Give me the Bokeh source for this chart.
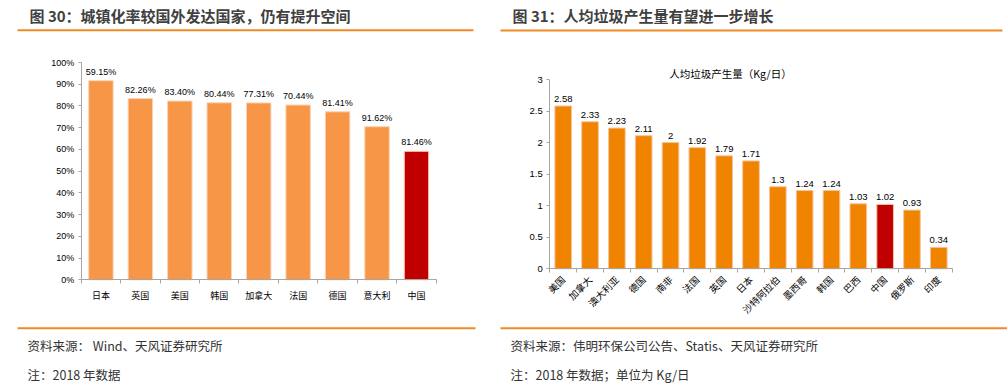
import math
from bokeh.plotting import figure
from bokeh.layouts import row
from bokeh.models import (Range1d, FixedTicker, Label, BoxAnnotation, ColumnDataSource,
                          CustomJSTickFormatter)
from bokeh.core.properties import value
from bokeh.embed import file_html
from bokeh.resources import INLINE

# ---------------- data ----------------
urb_countries = ["日本", "英国", "美国", "韩国", "加拿大", "法国", "德国", "意大利", "中国"]
urb_rates = [91.62, 83.40, 82.26, 81.46, 81.41, 80.44, 77.31, 70.44, 59.15]
urb_labels = ["59.15%", "82.26%", "83.40%", "80.44%", "77.31%", "70.44%", "81.41%", "91.62%", "81.46%"]
urb_yticks = [0, 10, 20, 30, 40, 50, 60, 70, 80, 90, 100]

waste_countries = ["美国", "加拿大", "澳大利亚", "德国", "南非", "法国", "英国", "日本",
                   "沙特阿拉伯", "墨西哥", "韩国", "巴西", "中国", "俄罗斯", "印度"]
waste_values = [2.58, 2.33, 2.23, 2.11, 2.00, 1.92, 1.79, 1.71, 1.30, 1.24, 1.24, 1.03, 1.02, 0.93, 0.34]
waste_labels = ["2.58", "2.33", "2.23", "2.11", "2", "1.92", "1.79", "1.71", "1.3", "1.24",
                "1.24", "1.03", "1.02", "0.93", "0.34"]
waste_yticks = [0, 0.5, 1, 1.5, 2, 2.5, 3]

title_left = "图 30：城镇化率较国外发达国家，仍有提升空间"
title_right = "图 31：人均垃圾产生量有望进一步增长"
inner_title_right = "人均垃圾产生量（Kg/日）"
src_left = "资料来源： Wind、天风证券研究所"
note_left = "注：2018 年数据"
src_right = "资料来源：伟明环保公司公告、Statis、天风证券研究所"
note_right = "注：2018 年数据；单位为 Kg/日"

# ---------------- styles / geometry ----------------
CJK = "Noto Sans CJK SC"
LAT = "Liberation Sans"
ORANGE_LINE = "#F08A24"
AXIS_GRAY = "#A6A6A6"
LEFT_BAR = "#F79646"
RIGHT_BAR = "#F08300"
RED = "#C00000"
FIG_H = 385


def scr_label(p, x, y, text, size, bold=False, color="#333333", align="left"):
    p.add_layout(Label(x=x, y=FIG_H - y, x_units="screen", y_units="screen", text=text,
                       text_align=align, text_baseline="middle", text_font=CJK,
                       text_font_size=size, text_font_style="bold" if bold else "normal",
                       text_color=color))


def scr_line(p, x0, x1, yc):
    p.add_layout(BoxAnnotation(left=x0, right=x1, bottom=FIG_H - yc - 1, top=FIG_H - yc + 1,
                               left_units="screen", right_units="screen",
                               bottom_units="screen", top_units="screen",
                               fill_color=ORANGE_LINE, fill_alpha=1, line_color=None))


def bar_chart(width, names, vals, labels, yticks, ymax, bar_color, outline, fsize, ylab_code,
              fx0, fx1, fy_top, fy_bot):
    """fx0..fx1, fy_top..fy_bot: pixel box (inside this canvas) that the chart axes span."""
    n = len(names)
    ux = (fx1 - fx0) / n
    uy = (fy_bot - fy_top) / ymax
    p = figure(width=width, height=FIG_H,
               x_range=Range1d(-fx0 / ux, (width - fx0) / ux),
               y_range=Range1d(-(FIG_H - fy_bot) / uy, fy_bot / uy),
               toolbar_location=None, output_backend="svg", outline_line_color=None,
               min_border=0, background_fill_color="white", border_fill_color="white")
    p.grid.visible = False
    xs = [i + 0.5 for i in range(n)]
    colors = [RED if c == "中国" else bar_color for c in names]
    src = ColumnDataSource(dict(x=xs, top=vals, color=colors, label=labels))
    p.vbar(x="x", top="top", bottom=0, width=0.62, fill_color="color", line_color=outline,
           line_width=1, source=src)
    p.text(x="x", y="top", text="label", source=src, text_align="center", text_baseline="bottom",
           y_offset=-4, text_font=value(LAT), text_font_size=fsize, text_color="#000000")

    xa = p.xaxis[0]
    xa.fixed_location = 0
    xa.bounds = (0, n)
    xa.ticker = FixedTicker(ticks=xs, minor_ticks=list(range(n + 1)))
    xa.formatter = CustomJSTickFormatter(args=dict(names=names),
                                         code="return names[Math.floor(tick)]")
    xa.major_tick_in = 0
    xa.major_tick_out = 0
    xa.minor_tick_in = 0
    xa.minor_tick_out = 4
    xa.minor_tick_line_color = AXIS_GRAY
    xa.axis_line_color = AXIS_GRAY
    xa.major_label_text_font = CJK
    xa.major_label_text_font_size = fsize
    xa.major_label_text_color = "#000000"

    ya = p.yaxis[0]
    ya.fixed_location = 0
    ya.bounds = (0, ymax)
    ya.ticker = FixedTicker(ticks=yticks, minor_ticks=[])
    ya.formatter = CustomJSTickFormatter(code=ylab_code)
    ya.major_tick_in = 0
    ya.major_tick_out = 3
    ya.major_tick_line_color = AXIS_GRAY
    ya.axis_line_color = AXIS_GRAY
    ya.major_label_standoff = 4
    ya.major_label_text_font = LAT
    ya.major_label_text_font_size = fsize
    ya.major_label_text_color = "#000000"
    return p


# left chart (canvas x 0..498)
pl = bar_chart(498, urb_countries, urb_rates, urb_labels, urb_yticks, 100, LEFT_BAR, "#FAD3B5",
               "9px", "return tick.toFixed(0) + '%'", 80.7, 435.7, 62.0, 279.3)
pl.xaxis[0].major_label_standoff = 5
scr_label(pl, 29, 15, title_left, "15px", bold=True, color="#404040")
scr_line(pl, 17, 473, 29.7)
scr_line(pl, 17, 475, 327.7)
scr_label(pl, 27, 344.5, src_left, "12.5px")
scr_label(pl, 27, 373.5, note_left, "12.5px")

# right chart (canvas x 498..1007)
pr = bar_chart(509, waste_countries, waste_values, waste_labels, waste_yticks, 3, RIGHT_BAR,
               "#F6C49A", "9.5px", "return String(tick)", 51.3, 453.7, 79.0, 268.3)
pr.xaxis[0].major_label_orientation = math.pi / 4
pr.xaxis[0].major_label_standoff = 5
scr_label(pr, 232, 73, inner_title_right, "10.5px", color="#000000", align="center")
scr_label(pr, 14, 15, title_right, "15px", bold=True, color="#404040")
scr_line(pr, 2, 504, 30.0)
scr_line(pr, 2, 509, 327.7)
scr_label(pr, 12, 345, src_right, "12.5px")
scr_label(pr, 12, 374, note_right, "12.5px")

layout = row(pl, pr)

open("out.html", "w").write(file_html(layout, INLINE))
